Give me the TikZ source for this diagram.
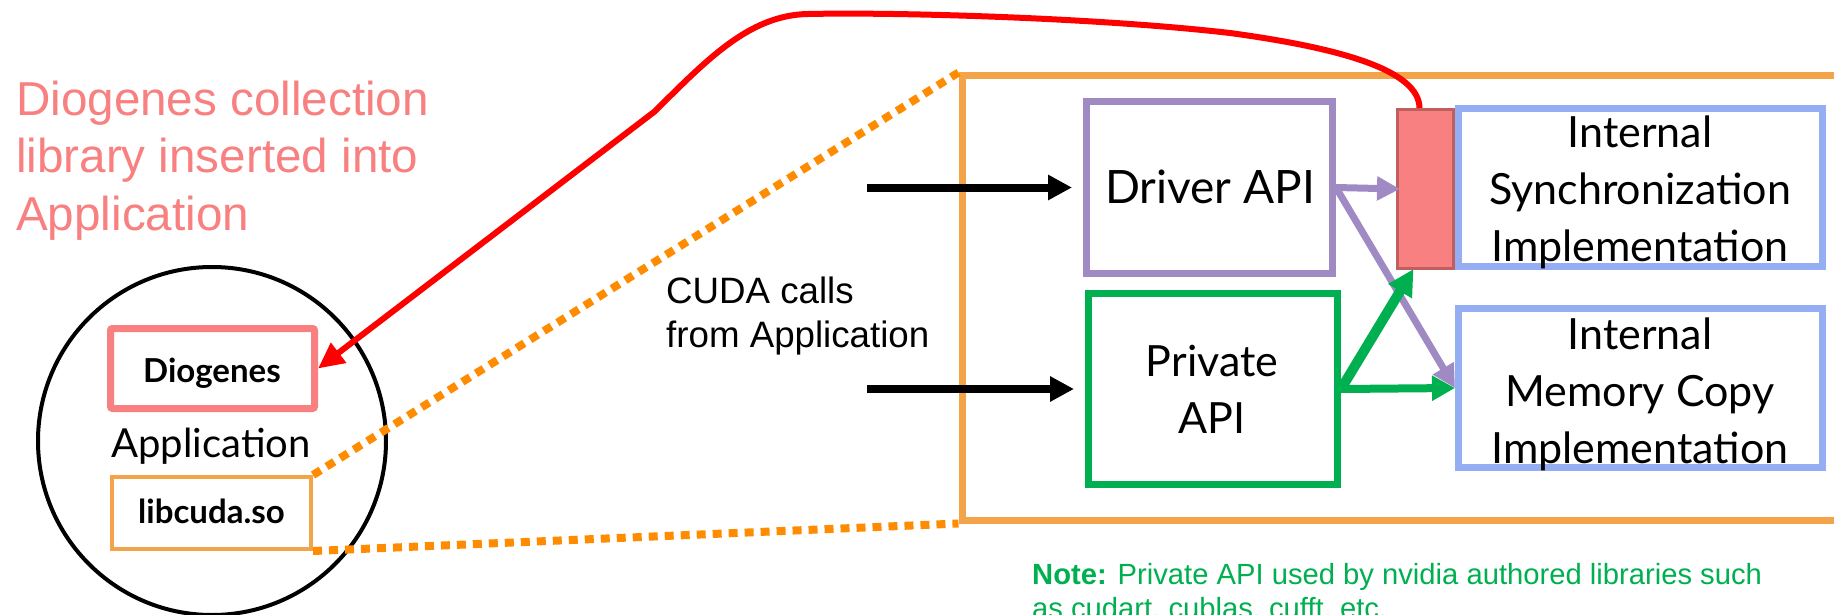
\documentclass[tikz,border=0pt]{standalone}
\usepackage{fontspec}
\setmainfont{Liberation Sans}
\newfontfamily\gill{Lato}
\usetikzlibrary{arrows.meta,calc}

\definecolor{salmon}{RGB}{248,128,128}
\definecolor{orangebox}{RGB}{244,164,72}
\definecolor{orangedot}{RGB}{255,140,0}
\definecolor{purp}{RGB}{160,138,196}
\definecolor{grn}{RGB}{0,176,80}
\definecolor{blu}{RGB}{149,173,242}
\definecolor{shimedge}{RGB}{192,96,94}

\pgfdeclarelayer{front}
\pgfsetlayers{main,front}

\begin{document}
\begin{tikzpicture}[x=1pt,y=-1pt,
  gillbig/.style={font=\gill\fontsize{43}{57}\selectfont},
  gillbold/.style={font=\gill\bfseries\fontsize{33}{38}\selectfont},
  boxbase/.style={rectangle, inner sep=0pt},
  txt/.style={inner sep=0pt, align=center, anchor=base},
  dotline/.style={orangedot, line width=8pt, dash pattern=on 9pt off 7pt},
  arrblk/.style={black, line width=8pt, -{Triangle[length=24pt,width=24pt]}},
  arrpur/.style={purp, line width=7pt, -{Triangle[length=23pt,width=23pt]}},
  arrgrn/.style={grn, line width=8pt, -{Triangle[length=23pt,width=24pt]}},
  arrred/.style={red, line width=6pt, -{Triangle[length=26pt,width=24pt]}}
]
\useasboundingbox (0,0) rectangle (1834,615);

% big orange box (extends past the right edge)
\node[boxbase, draw=orangebox, line width=7pt, minimum width=900pt, minimum height=444pt] (big) at (1412,298) {};

% application circle
\node[circle, draw=black, line width=4pt, minimum size=348pt, inner sep=0pt] (circ) at (212,441) {};
\node[txt, font=\gill\fontsize{40}{48}\selectfont] (apptext) at (211,457) {Application};
\node[boxbase, draw=salmon, line width=7pt, rounded corners=2pt, minimum width=204pt, minimum height=80pt] (dio) at (212.5,368.5) {};
\node[txt, gillbold] (diotext) at (212,382) {Diogenes};
\node[boxbase, draw=orangebox, line width=4pt, minimum width=199pt, minimum height=72pt] (cuda) at (211.5,513) {};
\node[txt, gillbold] (cudatext) at (211.5,523) {libcuda.so};

% dotted zoom lines
\draw[dotline] (cuda.north east) -- (big.north west);
\draw[dotline] (cuda.south east) -- (big.south west);

% labels
\node[anchor=base west, align=left, text=salmon, inner sep=0pt,
      font=\fontsize{47.6}{57.5}\selectfont] (lbl) at (16,230)
      {Diogenes collection\\library inserted into\\Application};
\node[anchor=base west, align=left, inner sep=0pt,
      font=\fontsize{36.7}{44}\selectfont] (calls) at (666,347) {CUDA calls\\from Application};
\node[anchor=base west, align=left, inner sep=0pt, text=grn,
      font=\fontsize{29.2}{33.5}\selectfont] (note) at (1032,618)
      {\textbf{Note:} Private API used by nvidia authored libraries such\\as cudart, cublas, cufft, etc.};

% API boxes
\node[boxbase, draw=purp, line width=7pt, minimum width=246pt, minimum height=172pt] (drv) at (1209.5,187.5) {};
\node[txt, font=\gill\fontsize{46}{57}\selectfont] (drvtext) at (1210,204) {Driver API};
\node[boxbase, draw=grn, line width=7pt, minimum width=249pt, minimum height=191pt] (priv) at (1213,389) {};
\node[txt, gillbig] (privtext) at (1212,433) {Private\\API};
\node[boxbase, draw=blu, line width=7pt, minimum width=364pt, minimum height=158pt] (sync) at (1640.5,187.5) {};
\node[txt, gillbig] (synctext) at (1640,261) {Internal\\Synchronization\\Implementation};
\node[boxbase, draw=blu, line width=7pt, minimum width=364pt, minimum height=159pt] (mem) at (1640.5,388) {};
\node[txt, gillbig] (memtext) at (1640,463) {Internal\\Memory Copy\\Implementation};

\begin{pgfonlayer}{front}
\node[boxbase, draw=shimedge, fill=salmon, line width=3pt, minimum width=56pt, minimum height=159pt] (shim) at (1425.5,189) {};
\end{pgfonlayer}

% incoming calls
\coordinate (in1) at (867,187.5);
\coordinate (in2) at (867,389);
\draw[arrblk, shorten >=11pt] (in1) -- (drv.west);
\draw[arrblk, shorten >=11pt] (in2) -- (priv.west);

% internal arrows
\draw[arrpur] (drv.east) -- (mem.west);
\draw[arrgrn] (priv.east) -- (mem.west);
\coordinate (shimin) at ($(shim.south)+(-12,-1)$);
\draw[arrgrn, line width=10pt, -{Triangle[length=26pt,width=26pt]}] (priv.east) -- (shimin);

\begin{pgfonlayer}{front}
\coordinate (shimw) at ($(shim.west)+(4,0)$);
\draw[arrpur] (drv.east) -- (shimw);
% red interception arrow
\coordinate (redstart) at ($(shim.north)+(-6,0)$);
\draw[arrred] (redstart) .. controls (1419,70) and (1340,48) .. (1230,33)
   .. controls (1100,18) and (900,12) .. (808,14)
   .. controls (748,15) and (705,62) .. (654,112) -- (dio.east);
\end{pgfonlayer}
\end{tikzpicture}
\end{document}
